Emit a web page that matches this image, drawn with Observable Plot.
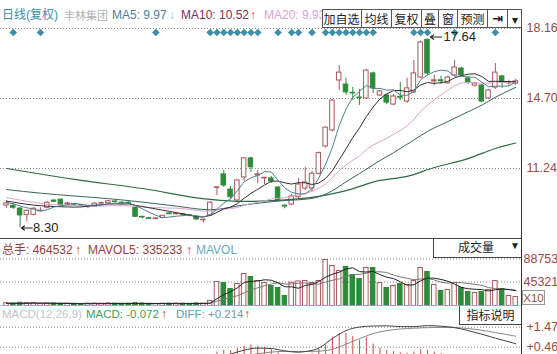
<!DOCTYPE html>
<html><head><meta charset="utf-8">
<script src="https://cdn.jsdelivr.net/npm/d3@7"></script>
<script src="https://cdn.jsdelivr.net/npm/@observablehq/plot@0.6"></script>
<style>
body{margin:0;background:#fff;}
#wrap{position:relative;width:557px;height:354px;overflow:hidden;background:#fff;font-family:"Liberation Sans","Noto Sans CJK SC",sans-serif;font-size:12px;}
.abs{position:absolute;white-space:nowrap;line-height:14px;}
.panel{position:absolute;left:0;width:557px;overflow:hidden;}
.cjk{font-family:"Noto Sans CJK SC",sans-serif;}
.cell{position:absolute;top:0;height:17px;line-height:17px;text-align:center;border-right:1px solid #555;font-family:"Noto Sans CJK SC",sans-serif;font-size:12px;color:#222;box-sizing:border-box;}
.arr{font-weight:bold;}
</style></head>
<body>
<div id="wrap">
  <div id="price" class="panel" style="top:0;height:240px"></div>
  <div id="vol" class="panel" style="top:239px;height:67px"></div>
  <div id="macd" class="panel" style="top:306px;height:48px"></div>
</div>
<script>
// ---- candle data (price) ----
const open  = [9.41,9.40,9.26,8.95,8.95,9.12,9.30,9.65,9.70,9.48, 9.45,9.40,9.35,9.35,9.50,9.52,9.58,9.55,9.52,9.30, 8.82,8.75,8.74,8.80,9.02,8.98,8.95,8.90,8.85,8.68, 8.92,10.28,10.95,10.20,9.66,10.80,11.74,10.90,10.75,10.75, 10.30,9.40,9.46,9.82,10.25,10.25,10.98,12.33,13.12,15.59, 15.39,14.98,14.72,14.70,15.94,14.85,14.85,14.40,14.78,14.55, 15.00,15.74,17.60,15.55,15.60,15.45,15.84,16.18,15.69,15.34, 15.34,14.70,15.24,15.79,15.45,15.44];
const close = [9.51,9.30,8.92,9.15,9.25,9.15,9.55,9.60,9.45,9.50, 9.43,9.38,9.36,9.50,9.52,9.62,9.56,9.52,9.50,8.85, 8.80,8.74,8.76,8.90,8.98,9.00,8.93,8.88,8.72,8.70, 9.55,10.30,10.40,9.82,10.65,11.74,11.30,10.95,10.78,10.60, 9.66,9.36,9.86,10.45,10.55,10.98,12.00,13.26,14.60,15.98, 15.00,14.95,14.70,16.08,15.20,15.05,14.50,14.80,14.74,15.20, 15.94,17.47,15.94,15.60,15.55,15.74,16.23,15.84,15.49,15.44, 14.55,15.10,15.98,15.49,15.49,15.55];
const high  = [9.66,9.50,9.30,9.18,9.30,9.30,9.60,9.72,9.72,9.58, 9.50,9.45,9.38,9.55,9.58,9.66,9.65,9.60,9.60,9.35, 8.88,8.78,8.80,8.92,9.05,9.05,9.00,8.95,8.87,8.72, 9.60,10.30,11.15,10.35,10.70,11.76,11.80,11.15,10.80,10.85, 10.35,9.45,9.95,10.75,11.30,11.10,12.05,13.30,14.65,16.33, 15.70,15.25,15.15,16.12,16.00,15.10,14.90,14.90,15.50,15.70, 16.58,17.55,17.64,15.85,15.80,15.80,16.58,16.25,15.75,15.50, 15.40,15.15,16.43,15.85,15.60,15.65];
const low   = [9.28,9.22,8.30,8.60,8.90,9.10,9.25,9.55,9.42,9.40, 9.38,9.33,9.25,9.32,9.45,9.50,9.52,9.48,9.45,8.82, 8.75,8.72,8.70,8.78,8.96,8.93,8.88,8.85,8.70,8.55, 8.88,9.90,10.30,9.70,9.60,10.60,11.05,10.50,10.45,10.50, 9.60,9.25,9.40,9.75,10.15,10.10,10.90,12.25,13.05,15.10, 14.85,14.60,14.35,14.65,14.95,14.80,14.40,14.35,14.60,14.45, 14.95,15.70,15.85,15.34,15.40,15.40,15.80,15.80,15.40,15.25, 14.50,14.65,15.15,15.20,15.30,15.35];
// ---- moving averages ----
const ma5  = [9.55,9.50,9.38,9.30,9.23,9.15,9.20,9.34,9.40,9.45, 9.51,9.47,9.42,9.43,9.44,9.48,9.51,9.54,9.54,9.41, 9.25,9.08,8.93,8.81,8.84,8.88,8.91,8.94,8.90,8.85, 8.96,9.23,9.53,9.75,10.14,10.58,10.78,10.89,11.08,11.07, 10.66,10.27,10.06,9.99,9.98,10.24,10.77,11.45,12.28,13.36, 14.17,14.76,15.05,15.35,15.19,15.20,15.11,15.13,14.86,14.86, 15.04,15.63,15.86,16.03,16.10,16.06,15.81,15.79,15.77,15.75, 15.51,15.28,15.31,15.31,15.32,15.52];
const ma10 = [9.62,9.58,9.52,9.47,9.43,9.40,9.38,9.36,9.35,9.34, 9.33,9.34,9.38,9.42,9.44,9.49,9.49,9.48,9.49,9.42, 9.36,9.30,9.24,9.18,9.12,9.06,9.00,8.93,8.86,8.84, 8.92,9.07,9.24,9.33,9.50,9.77,10.01,10.21,10.42,10.61, 10.62,10.53,10.47,10.54,10.53,10.45,10.52,10.75,11.13,11.67, 12.21,12.77,13.25,13.81,14.28,14.68,14.93,15.09,15.10,15.03, 15.12,15.37,15.49,15.45,15.48,15.55,15.72,15.83,15.90,15.92, 15.79,15.55,15.55,15.54,15.54,15.52];
const ma20 = [9.80,9.74,9.68,9.62,9.57,9.52,9.48,9.45,9.43,9.42, 9.41,9.40,9.39,9.39,9.39,9.40,9.40,9.40,9.39,9.38, 9.35,9.32,9.31,9.30,9.28,9.28,9.25,9.21,9.17,9.13, 9.14,9.18,9.24,9.25,9.31,9.42,9.50,9.57,9.64,9.73, 9.77,9.80,9.86,9.93,10.01,10.11,10.26,10.48,10.78,11.14, 11.41,11.65,11.86,12.17,12.40,12.57,12.73,12.92,13.12,13.35, 13.66,14.07,14.37,14.63,14.88,15.12,15.33,15.46,15.50,15.47, 15.45,15.46,15.52,15.49,15.51,15.53];
const ma30Idx = [0,5,10,15,20,25,30,35,40,45,48,50,52,55,57,60,62,65,67,70,72,75];
const ma30Val = [10.20,10.02,9.88,9.75,9.58,9.38,9.20,9.44,9.63,9.76,10.14,10.58,10.99,11.63,12.02,12.65,13.07,13.56,13.89,14.37,14.76,15.25];
const ma60Idx = [0,10,20,30,35,40,45,50,55,59,63,68,72,75];
const ma60Val = [11.24,10.70,10.25,9.71,9.61,9.66,9.81,10.15,10.65,10.85,11.29,11.73,12.23,12.50];
const priceTicks = [18.16, 14.70, 11.24];
const infoIdx = [1,5,22,30,31,32,33,34,35,36,37,40,42,43,45,47,48,49,50,51,52,53,54,60,61,62,66,72];
// ---- volume ----
const volume = [52000,48000,61000,55000,58000,45000,50000,48000,44000,46000, 42000,40000,45000,47000,44000,50000,46000,43000,45000,56000, 48000,42000,40000,44000,46000,48000,45000,42000,50000,46000,
  94000,453000,434000,321000,415000,604000,548000,472000,434000,378000, 340000,189000,440000,464532,472000,434000,472000,869000,755000,661000, 736000,585000,510000,718000,718000,434000,340000,378000,415000,397000, 472000,718000,642000,397000,283000,302000,434000,340000,264000,245000, 264000,302000,472000,321000,189000,170000];
const mavol5 = [50000,50000,51000,52000,55000,53000,52000,50000,49000,47000, 46000,44000,43000,44000,44000,45000,46000,46000,46000,48000, 48000,47000,46000,46000,46000,44000,45000,46000,46000,46000,
  55000,137000,215000,270000,343000,445000,464000,472000,495000,487000, 434000,363000,361000,335233,388000,406000,463000,544000,600000,638000, 699000,721000,649000,642000,653000,593000,544000,518000,457000,393000, 400000,476000,529000,525000,502000,468000,412000,351000,325000,317000, 309000,283000,309000,321000,310000,291000];
const mavol10 = [51000,51000,51000,51000,52000,52000,51000,51000,50000,50000, 49000,48000,47000,46000,46000,46000,46000,46000,46000,46000, 47000,47000,46000,46000,46000,46000,46000,46000,46000,46000,
  50000,91000,130000,158000,195000,250000,301000,344000,382000,415000, 440000,414000,417000,432000,437000,420000,413000,453000,485000,513000, 553000,592000,597000,621000,646000,646000,633000,584000,550000,523000, 497000,510000,523000,491000,448000,434000,444000,440000,425000,410000, 389000,347000,330000,323000,313000,300000];
const volTicks = [887530, 453210];
// ---- MACD ----
const histIdx = [20,21,22,23,24,25,26,27,28,29,30,31,32,33,34,35,36,37,38,39,40,41,42,43,44,45,46,47,48,49,50,51,52,53,54,55,56,57,58,59,60,61,62,63,64,65,66,67,68,69,70,71,72,73,74,75];
const histVal = [-0.10,-0.12,-0.14,-0.13,-0.11,-0.10,-0.09,-0.08,-0.09,-0.08, 0.05,0.22,0.32,0.30,0.40,0.52,0.58,0.52,0.45,0.35, 0.18,0.02,-0.05,-0.072,0.02,0.14,0.35,0.58,0.95,1.15, 1.15,1.00,0.82,0.95,0.62,0.42,0.30,0.24,0.18,0.16, 0.22,0.34,0.30,0.22,0.14,0.08,0.06,-0.02,-0.12,-0.18, -0.34,-0.40,-0.40,-0.46,-0.52,-0.56];
const lineIdx = [20,25,30,33,35,37,39,41,43,44,46,48,50,52,54,56,58,60,62,64,66,68,70,72,74,75];
const diffVal = [-0.30,-0.25,-0.12,0.12,0.32,0.42,0.40,0.28,0.214,0.25,0.42,0.90,1.30,1.48,1.53,1.54,1.50,1.50,1.55,1.52,1.45,1.30,1.12,0.92,0.74,0.64];
const deaVal  = [-0.25,-0.20,-0.14,-0.06,0.04,0.14,0.22,0.26,0.25,0.25,0.27,0.36,0.62,0.90,1.15,1.30,1.38,1.42,1.45,1.46,1.45,1.40,1.32,1.20,1.08,1.02];
const macdTicks = [1.47, 0.466];

// ---- build ----
const UP = "#a8585c", DOWN = "#2e8b3a", LABEL = "#9b4a48";
const candles = open.map((o, i) => ({i, open: o, close: close[i], high: high[i], low: low[i], up: close[i] >= o, vol: volume[i]}));
const xDomain = [-0.884, 75.85];
const base = {width: 557, marginLeft: 0, marginRight: 36, marginTop: 0, marginBottom: 0,
  style: {background: "transparent", fontFamily: "Liberation Sans, sans-serif", fontSize: "12px", overflow: "visible"}};
const bodyTop = d => Math.abs(d.close - d.open) < 0.03 ? d.open + 0.03 : d.close;
const hi = candles[d3.maxIndex(candles, d => d.high)];
const lo = candles[d3.minIndex(candles, d => d.low)];

const pricePlot = Plot.plot({...base, height: 240,
  x: {domain: xDomain, axis: null, label: null},
  y: {domain: [7.681, 19.544], axis: null, label: null},
  marks: [
    Plot.ruleY(priceTicks, {stroke: "#8a8a8a", strokeDasharray: "1,2"}),
    Plot.axisY(priceTicks, {anchor: "right", tickSize: 0, tickPadding: 5, tickFormat: d => d.toFixed(2), color: LABEL, fill: LABEL, fontSize: 12.5, label: null}),
    Plot.ruleX(candles, {x: "i", y1: "low", y2: "high", stroke: d => d.up ? UP : DOWN}),
    Plot.rect(candles, {x1: d => d.i - 0.33, x2: d => d.i + 0.33, y1: "open", y2: bodyTop, fill: d => d.up ? "#fff" : DOWN, stroke: d => d.up ? UP : DOWN}),
    Plot.line(ma60Idx, {x: d => d, y: (d, i) => ma60Val[i], stroke: "#2f6b40", strokeWidth: 1.2, curve: "monotone-x"}),
    Plot.line(ma30Idx, {x: d => d, y: (d, i) => ma30Val[i], stroke: "#35675e", strokeWidth: 1, curve: "monotone-x"}),
    Plot.line(ma20, {x: (d, i) => i, y: d => d, stroke: "#d8a4d2", strokeWidth: 1}),
    Plot.line(ma10, {x: (d, i) => i, y: d => d, stroke: "#3a2a30", strokeWidth: 1}),
    Plot.line(ma5, {x: (d, i) => i, y: d => d, stroke: "#4f8190", strokeWidth: 1}),
    Plot.dot(infoIdx, {x: d => d, frameAnchor: "top", dy: 32, symbol: "diamond2", r: 3.4, fill: "#3d8ea8", stroke: "none"}),
    Plot.arrow([hi], {x1: d => d.i + 2.1, x2: d => d.i + 0.45, y1: "high", y2: "high", stroke: "#222", strokeWidth: 1.2, headLength: 5, headAngle: 70, dy: -2}),
    Plot.text([hi], {x: "i", y: "high", text: d => d.high.toFixed(2), dx: 16, dy: -2, textAnchor: "start", fontSize: 13, fill: "#222"}),
    Plot.arrow([lo], {x1: d => d.i + 1.8, x2: d => d.i + 0.2, y1: "low", y2: "low", stroke: "#222", strokeWidth: 1.2, headLength: 5, headAngle: 70}),
    Plot.text([lo], {x: "i", y: "low", text: d => d.low.toFixed(2), dx: 13, textAnchor: "start", fontSize: 13, fill: "#222"})
  ]});
document.getElementById("price").append(pricePlot);

const volPlot = Plot.plot({...base, height: 67,
  x: {domain: xDomain, axis: null, label: null},
  y: {domain: [-9441, 1255720], axis: null, label: null},
  marks: [
    Plot.ruleY(volTicks, {stroke: "#8a8a8a", strokeDasharray: "1,2"}),
    Plot.axisY(volTicks, {anchor: "right", tickSize: 0, tickPadding: 2, tickFormat: d => String(Math.round(d / 10)), color: LABEL, fill: LABEL, fontSize: 12.5, label: null}),
    Plot.rect(candles, {x1: d => d.i - 0.33, x2: d => d.i + 0.33, y1: 0, y2: "vol", fill: d => d.up ? "#fff" : DOWN, stroke: d => d.up ? UP : DOWN}),
    Plot.line(mavol10, {x: (d, i) => i, y: d => d, stroke: "#777", strokeWidth: 1}),
    Plot.line(mavol5, {x: (d, i) => i, y: d => d, stroke: "#222", strokeWidth: 1}),
    Plot.ruleY([0], {stroke: "#5fcfdf", strokeWidth: 1.5})
  ]});
document.getElementById("vol").append(volPlot);

const macdPlot = Plot.plot({...base, height: 48,
  x: {domain: xDomain, axis: null, label: null},
  y: {domain: [0.1004, 2.51], axis: null, label: null},
  marks: [
    Plot.ruleY(macdTicks, {stroke: "#8a8a8a", strokeDasharray: "1,2"}),
    Plot.axisY(macdTicks, {anchor: "right", tickSize: 0, tickPadding: 5, tickFormat: d => "+" + d, color: LABEL, fill: LABEL, fontSize: 12.5, label: null}),
    Plot.ruleX(histIdx, {x: d => d, y1: 0, y2: (d, i) => histVal[i], stroke: (d, i) => histVal[i] >= 0 ? "#c0504d" : DOWN, clip: true}),
    Plot.line(lineIdx, {x: d => d, y: (d, i) => deaVal[i], stroke: "#888", strokeWidth: 1, curve: "monotone-x", clip: true}),
    Plot.line(lineIdx, {x: d => d, y: (d, i) => diffVal[i], stroke: "#444", strokeWidth: 1, curve: "monotone-x", clip: true})
  ]});
document.getElementById("macd").append(macdPlot);

// ---- overlays: headers, toolbar, frame lines ----
const wrap = document.getElementById("wrap");
function add(html, style, cls = "abs") {
  const el = document.createElement("div");
  el.className = cls; el.innerHTML = html; el.style.cssText += style; wrap.append(el); return el;
}
// frame lines
add("", "left:0;top:238px;width:521px;height:1px;background:#444;");
add("", "left:521px;top:9px;width:1px;height:345px;background:#333;");
// top header
add("日线(复权)", "left:2px;top:8px;color:#3b8fa0;");
add("丰林集团", "left:64px;top:8px;color:#b0b0b0;font-family:'Noto Sans CJK SC';font-size:11px;");
add("MA5: 9.97", "left:112px;top:8px;color:#4f8190;");
add("↓", "left:169px;top:8px;color:#7fd0d8;", "abs arr");
add("MA10: 10.52", "left:181px;top:8px;color:#7a2f55;");
add("↑", "left:250px;top:8px;color:#c0392b;", "abs arr");
add("MA20: 9.93", "left:264px;top:8px;color:#d9a3d6;");
// toolbar
const tb = add("", "left:322px;top:9px;width:200px;height:19px;border:1px solid #555;background:#fff;box-sizing:border-box;");
const cuts = [322, 362, 392, 422, 439, 458, 488, 508, 521];
const labels = ["加自选", "均线", "复权", "叠", "窗", "预测", "⇥", "▾"];
labels.forEach((t, k) => {
  const c = document.createElement("div");
  c.className = "cell"; c.textContent = t;
  c.style.left = (cuts[k] - 322 - 1) + "px"; c.style.width = (cuts[k + 1] - cuts[k]) + "px";
  if (k === labels.length - 1) c.style.borderRight = "none";
  if (t === "⇥") { c.style.fontWeight = "bold"; c.style.fontFamily = "DejaVu Sans"; c.style.fontSize = "13px"; }
  tb.append(c);
});
// volume header
add("总手: 464532", "left:2px;top:243px;color:#963c3c;");
add("↑", "left:75px;top:243px;color:#c0392b;", "abs arr");
add("MAVOL5: 335233", "left:88px;top:243px;color:#963c3c;");
add("↑", "left:186px;top:243px;color:#c0392b;", "abs arr");
add("MAVOL", "left:196px;top:243px;color:#6aaabb;");
add("<span style='position:absolute;left:24px;top:1px' class='cjk'>成交量</span><span style='position:absolute;left:76px;top:0px;font-size:10px'>▼</span>",
  "left:433px;top:239px;width:88px;height:19px;border-left:1px solid #444;border-bottom:1px solid #444;background:#fff;box-sizing:border-box;color:#222;");
add("X10", "left:522px;top:290px;width:23px;height:15px;line-height:14px;border:1px solid #999;box-sizing:border-box;color:#9b4a48;font-size:11.5px;text-align:center;");
// macd header
add("MACD(12,26,9)", "left:2px;top:307px;color:#c4c4c4;font-size:11.5px;");
add("MACD: -0.072", "left:86px;top:307px;color:#4a9a58;font-size:11.5px;");
add("↑", "left:161px;top:307px;color:#c0392b;", "abs arr");
add("DIFF: +0.214", "left:176px;top:307px;color:#6a98a8;font-size:11.5px;");
add("↑", "left:244px;top:307px;color:#c0392b;", "abs arr");
add("<span class='cjk'>指标说明</span>", "left:459px;top:306px;width:62px;height:19px;line-height:18px;text-align:center;border-left:1px solid #444;border-bottom:1px solid #444;background:#fff;box-sizing:border-box;color:#222;");
</script>
</body></html>
